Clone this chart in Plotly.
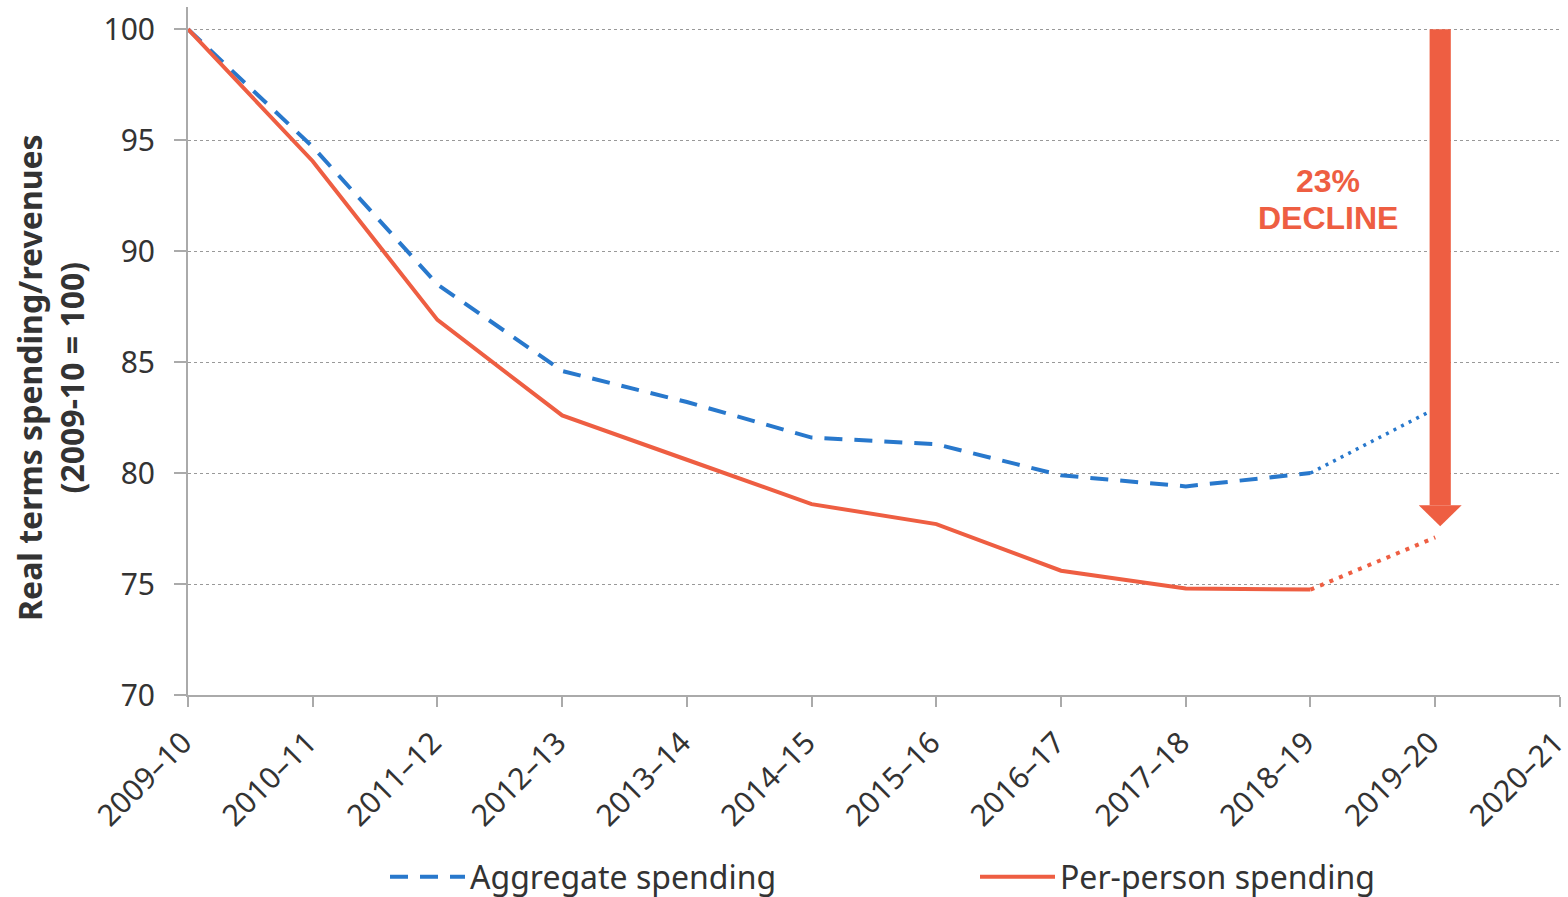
import plotly.graph_objects as go

# ---- data ----
years = ['2009–10', '2010–11', '2011–12', '2012–13', '2013–14', '2014–15',
         '2015–16', '2016–17', '2017–18', '2018–19', '2019–20', '2020–21']
aggregate = [100, 94.7, 88.5, 84.6, 83.2, 81.6, 81.3, 79.9, 79.4, 80.0, 82.9]
per_person = [100, 94.05, 86.9, 82.6, 80.6, 78.6, 77.7, 75.6, 74.8, 74.75, 77.1]
y_ticks = [70, 75, 80, 85, 90, 95, 100]
decline_pct = '23%'
decline_word = 'DECLINE'
y_title = '<b>Real terms spending/revenues<br>(2009-10 = 100)</b>'

BLUE = '#2878CC'
RED = '#EE5E42'
TXT = '#333333'
FONT = 'Noto Sans'

xi = list(range(len(years)))
split = 9  # last actual (non-projected) index

fig = go.Figure()
# aggregate: dashed actual, dotted projection
fig.add_trace(go.Scatter(x=xi[:split + 1], y=aggregate[:split + 1], mode='lines',
                         line=dict(color=BLUE, width=4, dash='18px,12px'),
                         name='Aggregate spending', showlegend=True))
fig.add_trace(go.Scatter(x=xi[split:len(aggregate)], y=aggregate[split:], mode='lines',
                         line=dict(color=BLUE, width=3.5, dash='3px,5.5px'),
                         showlegend=False, hoverinfo='skip'))
# per-person
fig.add_trace(go.Scatter(x=xi[:split + 1], y=per_person[:split + 1], mode='lines',
                         line=dict(color=RED, width=4),
                         name='Per-person spending', showlegend=True))
fig.add_trace(go.Scatter(x=xi[split:len(per_person)], y=per_person[split:], mode='lines',
                         line=dict(color=RED, width=4, dash='4px,6.3px'),
                         showlegend=False, hoverinfo='skip'))

# decline arrow (from 100 down to projected per-person level)
ax = xi[10] + 0.04
shaft_half = 0.085
head_half = 0.172
tip = per_person[-1] + 0.5
head_base = tip + 0.95
fig.add_shape(type='rect', xref='x', yref='y', x0=ax - shaft_half, x1=ax + shaft_half,
              y0=head_base, y1=aggregate[0], fillcolor=RED, line=dict(width=0), layer='above')
fig.add_shape(type='path', xref='x', yref='y',
              path=f'M {ax - head_half},{head_base} L {ax + head_half},{head_base} L {ax},{tip} Z',
              fillcolor=RED, line=dict(width=0), layer='above')

fig.add_annotation(x=9.14, y=93.15, xref='x', yref='y', text=decline_pct, showarrow=False,
                   font=dict(family='Liberation Sans', size=32, color=RED, weight='bold'))
fig.add_annotation(x=9.14, y=91.5, xref='x', yref='y', text=decline_word, showarrow=False,
                   font=dict(family='Liberation Sans', size=32, color=RED, weight='bold'))

# y-axis title as rotated annotation (positioned like the reference)
fig.add_annotation(x=-0.0998, y=0.461, xref='paper', yref='paper', text=y_title,
                   textangle=-90, showarrow=False, xanchor='center', yanchor='middle',
                   font=dict(size=32, color=TXT, family=FONT))

fig.update_layout(
    width=1568, height=897,
    margin=dict(l=188, r=8, t=7, b=202),
    paper_bgcolor='white', plot_bgcolor='white',
    font=dict(family=FONT, color=TXT),
    legend=dict(orientation='h', xref='container', yref='container',
                x=385 / 1568, xanchor='left', y=20 / 897, yanchor='middle',
                itemwidth=75, entrywidth=500, entrywidthmode='pixels',
                font=dict(size=32, color=TXT, family=FONT), bgcolor='rgba(0,0,0,0)',
                tracegroupgap=0),
    xaxis=dict(range=[0, 11.0005], tickmode='array', tickvals=xi, ticktext=years,
               tickangle=-45, tickfont=dict(size=30, color=TXT), ticklabelstandoff=6,
               ticklabelshift=-5, ticklabeloverflow='allow', automargin=False,
               showgrid=False, zeroline=False, showline=True, linecolor='#AAAAAA', linewidth=2,
               ticks='outside', ticklen=10, tickcolor='#AAAAAA', tickwidth=1.5),
    yaxis=dict(range=[70, 101], tickmode='array', tickvals=y_ticks, automargin=False,
               tickfont=dict(size=30, color=TXT), ticklabelstandoff=13,
               showgrid=True, gridcolor='#999999', griddash='dot', gridwidth=1,
               zeroline=False, showline=True, linecolor='#AAAAAA', linewidth=2,
               ticks='outside', ticklen=12, tickcolor='#AAAAAA', tickwidth=1.5),
)

fig.write_html('out.html')
